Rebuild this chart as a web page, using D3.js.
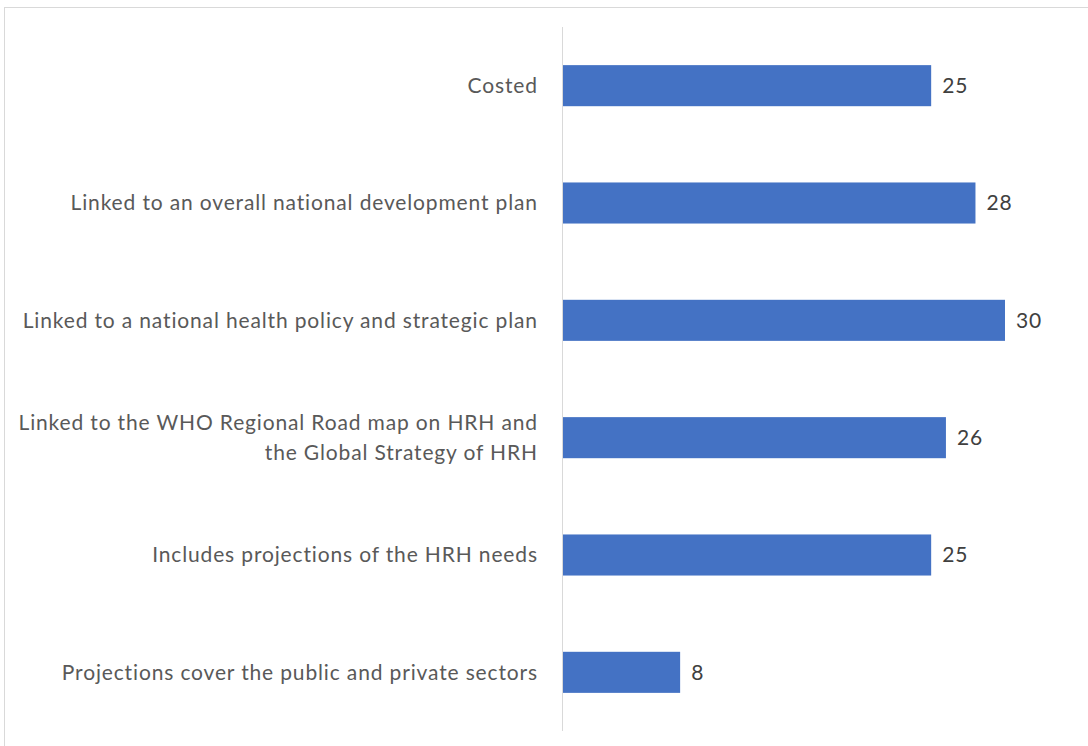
<!DOCTYPE html>
<html>
<head>
<meta charset="utf-8">
<script src="https://cdn.jsdelivr.net/npm/d3@7"></script>
<style>
  html, body { margin: 0; padding: 0; background: #fff; }
  svg { display: block; }
</style>
</head>
<body>
<svg id="chart" width="1088" height="746"></svg>
<script>
// Plan characteristics and the number of countries meeting each
const categories = [
  ["Costed"],
  ["Linked to an overall national development plan"],
  ["Linked to a national health policy and strategic plan"],
  ["Linked to the WHO Regional Road map on HRH and", "the Global Strategy of HRH"],
  ["Includes projections of the HRH needs"],
  ["Projections cover the public and private sectors"]
];
const values = [25, 28, 30, 26, 25, 8];

const svg = d3.select("#chart");
const font = "Lato, 'Open Sans', sans-serif";
const fontSize = 21;
const spacing = 0.85;

// outer frame
svg.append("rect")
  .attr("x", 4.5).attr("y", 7.5)
  .attr("width", 1100).attr("height", 760)
  .attr("fill", "none").attr("stroke", "#d9d9d9").attr("stroke-width", 1);

const plotLeft = 562, plotTop = 27, plotBottom = 731;
const x = d3.scaleLinear().domain([0, 30]).range([plotLeft, 1005]);
const y = d3.scaleBand().domain(d3.range(values.length))
  .range([plotTop, plotBottom]).paddingInner(0.65).paddingOuter(0.325);

// bars
svg.append("g").selectAll("rect").data(values).join("rect")
  .attr("x", x(0))
  .attr("y", (d, i) => y(i))
  .attr("width", d => x(d) - x(0))
  .attr("height", y.bandwidth())
  .attr("fill", "#4472c4");

// category axis line
svg.append("line")
  .attr("x1", plotLeft + 0.5).attr("x2", plotLeft + 0.5)
  .attr("y1", plotTop).attr("y2", plotBottom)
  .attr("stroke", "#d9d9d9").attr("stroke-width", 1);

// value labels
svg.append("g").selectAll("text").data(values).join("text")
  .attr("x", d => x(d) + 11)
  .attr("y", (d, i) => y(i) + y.bandwidth() / 2)
  .attr("dy", "0.35em")
  .attr("font-family", font).attr("font-size", fontSize)
  .attr("letter-spacing", spacing)
  .attr("fill", "#404040")
  .text(d => d);

// category labels
const lh = 30;
const labels = svg.append("g").selectAll("text").data(categories).join("text")
  .attr("text-anchor", "end")
  .attr("font-family", font).attr("font-size", fontSize)
  .attr("letter-spacing", spacing)
  .attr("fill", "#595959")
  .attr("transform", (d, i) => `translate(${537 + spacing}, ${y(i) + y.bandwidth() / 2 - (d.length - 1) * lh / 2})`);
labels.selectAll("tspan").data(d => d).join("tspan")
  .attr("x", 0)
  .attr("y", (d, j) => j * lh)
  .attr("dy", "0.35em")
  .text(d => d);
</script>
</body>
</html>
